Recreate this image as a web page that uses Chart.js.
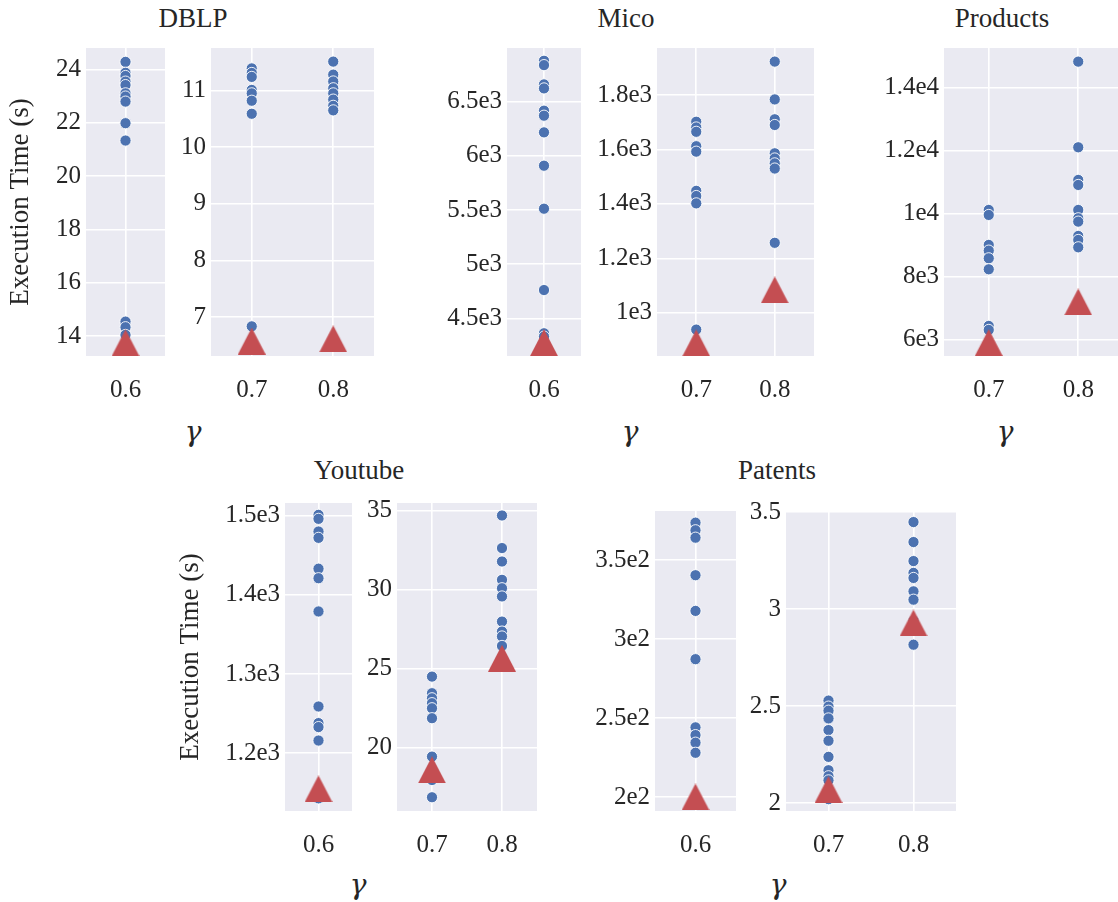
<!DOCTYPE html>
<html>
<head>
<meta charset="utf-8">
<script src="https://cdn.jsdelivr.net/npm/chart.js@4/dist/chart.umd.min.js"></script>
<style>
  html, body { margin: 0; padding: 0; background: #fff; overflow: hidden; width: 1118px; height: 902px; }
  .panel { position: absolute; }
  .lbl { position: absolute; transform: translate(-50%, -50%); font-family: 'Liberation Serif', serif; color: #262626; white-space: nowrap; }
  .title { font-size: 27px; }
  .gamma { font-size: 28px; font-style: italic; font-family: 'DejaVu Serif', serif; }
</style>
</head>
<body>
<div class="lbl title" style="left:193px;top:18px">DBLP</div>
<div class="lbl title" style="left:626px;top:18px">Mico</div>
<div class="lbl title" style="left:1002px;top:18px">Products</div>
<div class="lbl title" style="left:359px;top:470px">Youtube</div>
<div class="lbl title" style="left:777px;top:470px">Patents</div>
<div class="lbl gamma" style="left:193px;top:431px">γ</div>
<div class="lbl gamma" style="left:630px;top:431px">γ</div>
<div class="lbl gamma" style="left:1005px;top:431px">γ</div>
<div class="lbl gamma" style="left:358px;top:884px">γ</div>
<div class="lbl gamma" style="left:778px;top:884px">γ</div>

<canvas id="dblpA" class="panel"></canvas>
<canvas id="dblpB" class="panel"></canvas>
<canvas id="micoA" class="panel"></canvas>
<canvas id="micoB" class="panel"></canvas>
<canvas id="products" class="panel"></canvas>
<canvas id="youtubeA" class="panel"></canvas>
<canvas id="youtubeB" class="panel"></canvas>
<canvas id="patentsA" class="panel"></canvas>
<canvas id="patentsB" class="panel"></canvas>

<script>
// gamma categories
const gammaLow = ['0.6'];
const gammaHigh = ['0.7', '0.8'];

// DBLP
const dblp06 = [24.28, 23.87, 23.75, 23.54, 23.41, 23.1, 22.98, 22.79, 21.98, 21.33, 14.54, 14.33, 14.04];
const dblp07 = [11.39, 11.31, 11.24, 11.01, 10.95, 10.82, 10.59, 6.84];
const dblp08 = [11.51, 11.28, 11.16, 11.04, 10.95, 10.84, 10.73, 10.65];
const dblpTriLow = [13.74];
const dblpTriHigh = [6.58, 6.62];
const dblpTicksLow = [14, 16, 18, 20, 22, 24];
const dblpLabelsLow = ['14', '16', '18', '20', '22', '24'];
const dblpTicksHigh = [7, 8, 9, 10, 11];
const dblpLabelsHigh = ['7', '8', '9', '10', '11'];

// Mico
const mico06 = [6878, 6838, 6660, 6623, 6417, 6371, 6217, 5909, 5512, 4761, 4362, 4331];
const mico07 = [1702, 1681, 1665, 1612, 1592, 1448, 1429, 1402, 938];
const mico08 = [1923, 1784, 1711, 1690, 1586, 1567, 1549, 1530, 1257];
const micoTriLow = [4275];
const micoTriHigh = [889, 1084];
const micoTicksLow = [4500, 5000, 5500, 6000, 6500];
const micoLabelsLow = ['4.5e3', '5e3', '5.5e3', '6e3', '6.5e3'];
const micoTicksHigh = [1000, 1200, 1400, 1600, 1800];
const micoLabelsHigh = ['1e3', '1.2e3', '1.4e3', '1.6e3', '1.8e3'];

// Products
const products07 = [10106, 9948, 8996, 8816, 8572, 8223, 6424, 6298];
const products08 = [14815, 12096, 11059, 10900, 10106, 9842, 9736, 9281, 9154, 8921];
const productsTri = [5896, 7186];
const productsTicks = [6000, 8000, 10000, 12000, 14000];
const productsLabels = ['6e3', '8e3', '1e4', '1.2e4', '1.4e4'];

// Youtube
const youtube06 = [1501, 1496, 1480, 1472, 1433, 1421, 1379, 1259, 1238, 1233, 1216, 1143];
const youtube07 = [24.49, 23.44, 23.12, 22.81, 22.49, 21.86, 19.43, 17.95, 16.86];
const youtube08 = [34.68, 32.62, 31.77, 30.61, 30.08, 29.56, 27.97, 27.34, 27.03, 26.43];
const youtubeTriLow = [1155];
const youtubeTriHigh = [18.59, 25.65];
const youtubeTicksLow = [1200, 1300, 1400, 1500];
const youtubeLabelsLow = ['1.2e3', '1.3e3', '1.4e3', '1.5e3'];
const youtubeTicksHigh = [20, 25, 30, 35];
const youtubeLabelsHigh = ['20', '25', '30', '35'];

// Patents
const patents06 = [373.8, 369, 364.3, 340.5, 317.9, 287.3, 244.1, 239.2, 234.4, 228];
const patents07 = [2.528, 2.497, 2.476, 2.436, 2.376, 2.321, 2.238, 2.169, 2.138, 2.117, 2.02];
const patents08 = [3.448, 3.345, 3.247, 3.186, 3.16, 3.091, 3.048, 2.94, 2.816];
const patentsTriLow = [200];
const patentsTriHigh = [2.069, 2.928];
const patentsTicksLow = [200, 250, 300, 350];
const patentsLabelsLow = ['2e2', '2.5e2', '3e2', '3.5e2'];
const patentsTicksHigh = [2, 2.5, 3, 3.5];
const patentsLabelsHigh = ['2', '2.5', '3', '3.5'];

const SERIF = 'Liberation Serif';
Chart.defaults.font.family = SERIF;
Chart.defaults.color = '#262626';

const BLUE = '#4C72B0';
const RED = '#C44E52';

// triangle marker like matplotlib '^' (centered on its box)
const tri = document.createElement('canvas');
tri.width = 28; tri.height = 27;
(function () {
    const c = tri.getContext('2d');
    c.fillStyle = RED;
    c.beginPath();
    c.moveTo(14, 0);
    c.lineTo(28, 27);
    c.lineTo(0, 27);
    c.closePath();
    c.fill();
})();

const bgPlugin = {
    id: 'bg',
    beforeDraw(chart) {
        const a = chart.chartArea;
        chart.ctx.save();
        chart.ctx.fillStyle = '#EAEAF2';
        chart.ctx.fillRect(a.left, a.top, a.right - a.left, a.bottom - a.top);
        chart.ctx.restore();
    }
};

const PAD_TOP = 20, PAD_RIGHT = 12, X_H = 54;

function panel(id, box, cats, series, tris, yMin, yMax, ticks, labels, yTitle) {
    const yW = yTitle ? box.axisW : 80;
    const el = document.getElementById(id);
    const w = yW + (box.r - box.l) + PAD_RIGHT;
    const h = PAD_TOP + (box.b - box.t) + X_H;
    el.width = w; el.height = h;
    el.style.left = (box.l - yW) + 'px';
    el.style.top = (box.t - PAD_TOP) + 'px';

    const dots = [];
    cats.forEach((c, i) => series[i].forEach(v => dots.push({ x: c, y: v })));
    const triPts = cats.map((c, i) => ({ x: c, y: tris[i] }));

    new Chart(el, {
        type: 'scatter',
        data: {
            datasets: [{
                data: triPts,
                pointStyle: tri,
                pointRadius: 14,
                clip: false
            }, {
                data: dots,
                pointStyle: 'circle',
                pointRadius: 5.6,
                backgroundColor: BLUE,
                borderColor: '#fff',
                borderWidth: 0.9,
                clip: false
            }]
        },
        options: {
            responsive: false,
            animation: false,
            events: [],
            layout: { padding: { top: PAD_TOP, right: PAD_RIGHT, left: 0, bottom: 0 } },
            plugins: { legend: { display: false }, tooltip: { enabled: false } },
            scales: {
                x: {
                    type: 'category',
                    labels: cats,
                    offset: true,
                    grid: { color: '#fff', lineWidth: 1.6, offset: false, drawTicks: false },
                    border: { display: false },
                    ticks: { font: { family: SERIF, size: 25 }, padding: 19, maxRotation: 0 },
                    afterFit(s) { s.height = X_H; s.paddingLeft = 0; s.paddingRight = 0; }
                },
                y: {
                    min: yMin,
                    max: yMax,
                    grid: { color: '#fff', lineWidth: 1.6, drawTicks: false },
                    border: { display: false },
                    ticks: {
                        font: { family: SERIF, size: 25 },
                        padding: 5,
                        autoSkip: false,
                        callback: (v, i) => labels[i]
                    },
                    title: {
                        display: !!yTitle,
                        text: yTitle || '',
                        font: { family: SERIF, size: 27 },
                        padding: { top: 5, bottom: 4 }
                    },
                    afterBuildTicks(s) { s.ticks = ticks.map(v => ({ value: v })); },
                    afterFit(s) { s.width = yW; s.paddingTop = 0; s.paddingBottom = 0; }
                }
            }
        },
        plugins: [bgPlugin]
    });
}

const ET = 'Execution Time (s)';
panel('dblpA', { l: 86, t: 48, r: 168, b: 356, axisW: 86 }, gammaLow, [dblp06], dblpTriLow, 13.25, 24.8, dblpTicksLow, dblpLabelsLow, ET);
panel('dblpB', { l: 211, t: 48, r: 377, b: 356 }, gammaHigh, [dblp07, dblp08], dblpTriHigh, 6.317, 11.75, dblpTicksHigh, dblpLabelsHigh);
panel('micoA', { l: 507, t: 48, r: 584, b: 356 }, gammaLow, [mico06], micoTriLow, 4152, 6996, micoTicksLow, micoLabelsLow);
panel('micoB', { l: 657, t: 48, r: 817, b: 356 }, gammaHigh, [mico07, mico08], micoTriHigh, 841, 1973, micoTicksHigh, micoLabelsHigh);
panel('products', { l: 944, t: 48, r: 1126, b: 356 }, gammaHigh, [products07, products08], productsTri, 5470, 15248, productsTicks, productsLabels);
panel('youtubeA', { l: 285, t: 503, r: 355, b: 811, axisW: 115 }, gammaLow, [youtube06], youtubeTriLow, 1127, 1516, youtubeTicksLow, youtubeLabelsLow, ET);
panel('youtubeB', { l: 397, t: 503, r: 540, b: 811 }, gammaHigh, [youtube07, youtube08], youtubeTriHigh, 15.99, 35.47, youtubeTicksHigh, youtubeLabelsHigh);
panel('patentsA', { l: 655, t: 511, r: 739, b: 811 }, gammaLow, [patents06], patentsTriLow, 191.1, 381.2, patentsTicksLow, patentsLabelsLow);
panel('patentsB', { l: 786, t: 511, r: 959, b: 811 }, gammaHigh, [patents07, patents08], patentsTriHigh, 1.959, 3.505, patentsTicksHigh, patentsLabelsHigh);
</script>
</body>
</html>
